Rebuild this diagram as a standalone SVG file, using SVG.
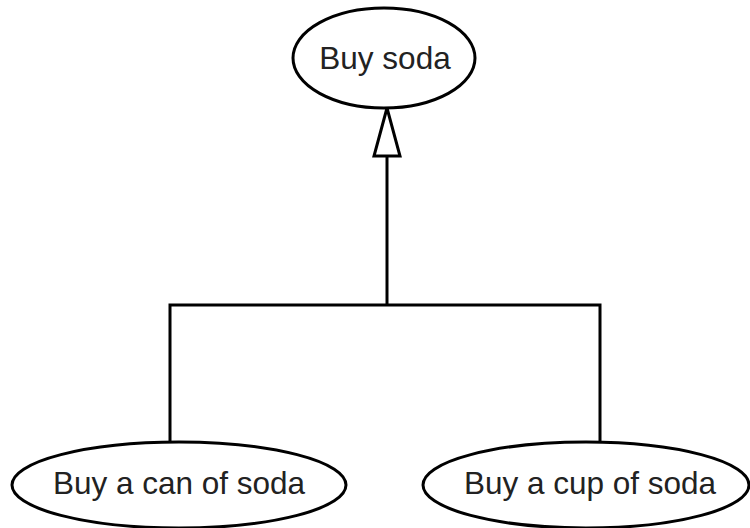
<svg xmlns="http://www.w3.org/2000/svg" width="750" height="528" viewBox="0 0 750 528">
  <style>
    .node ellipse { fill: #fff; stroke: #000; stroke-width: 3; }
    .node text { font-family: "Liberation Sans", Arial, sans-serif; font-size: 31.5px; fill: #222; text-anchor: middle; }
    .edge { fill: none; stroke: #000; stroke-width: 3; }
  </style>
  <defs>
    <!-- hollow triangle for generalization -->
    <marker id="generalization" markerUnits="userSpaceOnUse" markerWidth="52" markerHeight="32" viewBox="0 0 52 32" refX="50" refY="16" orient="auto">
      <path d="M50,16 L2,3 L2,29 Z" fill="#fff" stroke="#000" stroke-width="3" stroke-linejoin="miter"/>
    </marker>
  </defs>
  <rect width="750" height="528" fill="#fff"/>
  <g id="connectors">
    <path class="edge" d="M170,442 V305 H600 V442"/>
    <path class="edge" d="M387,305 V108" marker-end="url(#generalization)"/>
  </g>
  <g id="buy-soda" class="node">
    <ellipse cx="384" cy="58" rx="91" ry="50"/>
    <text x="385" y="69">Buy soda</text>
  </g>
  <g id="buy-can" class="node">
    <ellipse cx="179" cy="485" rx="167" ry="43"/>
    <text x="179" y="494">Buy a can of soda</text>
  </g>
  <g id="buy-cup" class="node">
    <ellipse cx="586" cy="485" rx="163" ry="43"/>
    <text x="590" y="494">Buy a cup of soda</text>
  </g>
</svg>
